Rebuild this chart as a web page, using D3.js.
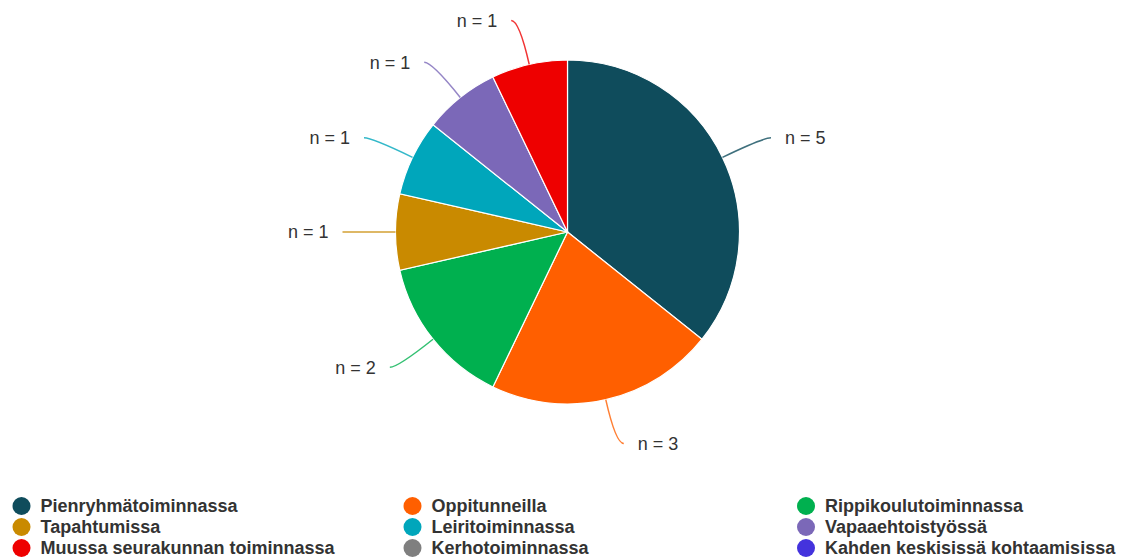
<!DOCTYPE html>
<html>
<head>
<meta charset="utf-8">
<script src="https://cdn.jsdelivr.net/npm/d3@7"></script>
<style>
  html, body { margin: 0; padding: 0; background: #fff; }
  svg { display: block; font-family: "Liberation Sans", Arial, sans-serif; }
</style>
</head>
<body>
<svg id="chart" width="1131" height="558"></svg>
<script>
// Categories and counts (n) per activity
const categories = [
  "Pienryhmätoiminnassa",
  "Oppitunneilla",
  "Rippikoulutoiminnassa",
  "Tapahtumissa",
  "Leiritoiminnassa",
  "Vapaaehtoistyössä",
  "Muussa seurakunnan toiminnassa",
  "Kerhotoiminnassa",
  "Kahden keskisissä kohtaamisissa"
];
const counts = [5, 3, 2, 1, 1, 1, 1, 0, 0];
const colors = [
  "#0f4c5c", "#ff5f00", "#00b04f",
  "#c98a00", "#00a6bb", "#7b68b8",
  "#ee0000", "#7f7f7f", "#4433dd"
];

const data = categories.map((c, i) => ({ name: c, value: counts[i], color: colors[i] }));

const svg = d3.select("#chart");
const cx = 567.5, cy = 232, radius = 172;

const pie = d3.pie().value(d => d.value).sort(null);
const arc = d3.arc().innerRadius(0).outerRadius(radius);
const arcs = pie(data).filter(a => a.data.value > 0);

const g = svg.append("g").attr("transform", `translate(${cx},${cy})`);

g.selectAll("path.slice")
  .data(arcs)
  .join("path")
  .attr("class", "slice")
  .attr("d", arc)
  .attr("fill", d => d.data.color)
  .attr("stroke", "#fff")
  .attr("stroke-width", 1.2);

// Leader lines and "n = x" labels
const outR = radius + 45, hook = 8, gap = 14;
function polar(a, r) { return [Math.sin(a) * r, -Math.cos(a) * r]; }

arcs.forEach(a => {
  const mid = (a.startAngle + a.endAngle) / 2;
  const side = Math.sin(mid) >= 0 ? 1 : -1;
  const p0 = polar(mid, radius);
  const p1 = polar(mid, outR);
  const p2 = [p1[0] + side * hook, p1[1]];
  const path = d3.path();
  path.moveTo(p0[0], p0[1]);
  path.quadraticCurveTo(p1[0], p1[1], p2[0], p2[1]);
  g.append("path")
    .attr("d", path.toString())
    .attr("fill", "none")
    .attr("stroke", a.data.color)
    .attr("stroke-opacity", 0.8)
    .attr("stroke-width", 1.5);
  g.append("text")
    .attr("x", p2[0] + side * gap)
    .attr("y", p2[1])
    .attr("dy", "0.35em")
    .attr("text-anchor", side > 0 ? "start" : "end")
    .attr("font-size", 18)
    .attr("fill", "#333")
    .text(`n = ${a.data.value}`);
});

// Legend: three columns, row-major order
const colX = [21.5, 412.5, 806];
const rowY = [506, 527, 548];
const legend = svg.append("g");
data.forEach((d, i) => {
  const col = i % 3, row = Math.floor(i / 3);
  const item = legend.append("g").attr("transform", `translate(${colX[col]},${rowY[row]})`);
  item.append("circle").attr("r", 9).attr("fill", d.color);
  item.append("text")
    .attr("x", 19)
    .attr("dy", "0.35em")
    .attr("font-size", 18)
    .attr("font-weight", "bold")
    .attr("fill", "#333")
    .text(d.name);
});
</script>
</body>
</html>
